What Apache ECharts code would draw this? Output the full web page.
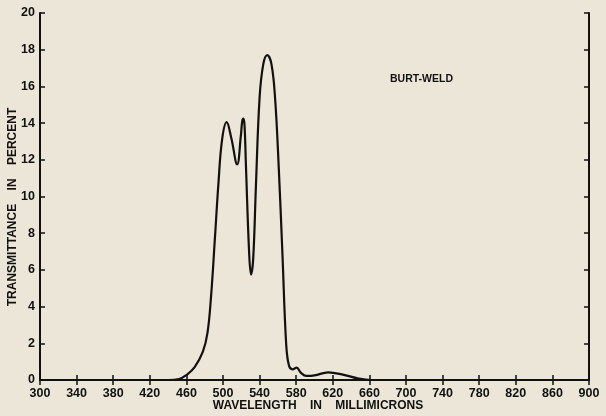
<!DOCTYPE html>
<html>
<head>
<meta charset="utf-8">
<script src="https://cdn.jsdelivr.net/npm/echarts@6/dist/echarts.min.js"></script>
<style>
html,body{margin:0;padding:0;background:#ece6d8;}
#c{width:606px;height:416px;}
</style>
</head>
<body>
<div id="c"></div>
<script>
const wavelengths = [440,452,460,469,478,483,487,491,495,499,504,509,515.5,519.5,521,522.3,523.5,525,528.5,530.6,533,536,540,544,548.4,553,557,561,565,569,572,576,580.5,585,591,600,615,632,648,662,900];
const transmittance = [0,0.05,0.27,0.7,1.55,2.55,4.6,7.6,10.7,13.1,14.05,13.2,11.75,13.3,14.1,14.25,13.9,11.8,7.0,5.75,6.6,10.6,15.4,17.2,17.7,17.2,15.3,11.5,6.8,2.0,0.8,0.58,0.67,0.4,0.22,0.25,0.42,0.28,0.08,0,0];
const xTicks = [300,340,380,420,460,500,540,580,620,660,700,740,780,820,860,900];
const yTicks = [0,2,4,6,8,10,12,14,16,18,20];
const sampleName = 'BURT-WELD';
const xTitle = 'WAVELENGTH    IN    MILLIMICRONS';
const yTitle = 'TRANSMITTANCE    IN    PERCENT';

const seriesData = wavelengths.map((w,i)=>[w, transmittance[i]]);
const ink = '#111';
const font = {fontFamily:'Liberation Sans, Arial, sans-serif', fontWeight:'bold', color:ink, fontSize:12.5};

const chart = echarts.init(document.getElementById('c'));
const xBase = {
  type:'value', min:300, max:900,
  axisLine:{show:true, lineStyle:{color:ink, width:2}},
  axisTick:{show:true, inside:true, length:5, customValues:xTicks, lineStyle:{color:ink, width:1.5}},
  splitLine:{show:false}
};
const yBase = {
  type:'value', min:0, max:20, interval:2,
  axisLine:{show:true, lineStyle:{color:ink, width:2}},
  axisTick:{show:true, inside:true, length:5, lineStyle:{color:ink, width:1.5}},
  splitLine:{show:false}
};
chart.setOption({
  backgroundColor:'#ece6d8',
  animation:false,
  grid:{left:40, right:17, top:13, bottom:36, containLabel:false, outerBoundsMode:'none'},
  xAxis:[
    Object.assign({}, xBase, {position:'bottom',
      axisLabel:Object.assign({}, font, {customValues:xTicks, margin:7})}),
    Object.assign({}, xBase, {position:'top', axisLabel:{show:false}})
  ],
  yAxis:[
    Object.assign({}, yBase, {position:'left',
      axisLabel:Object.assign({}, font, {margin:5, formatter: v => yTicks.includes(v) ? String(v) : ''})}),
    Object.assign({}, yBase, {position:'right', axisLabel:{show:false}})
  ],
  series:[{
    type:'line', data:seriesData, smooth:0.4,
    showSymbol:false, lineStyle:{color:ink, width:2.2}, z:5
  }],
  graphic:[{
    type:'text', x:13, y:207, rotation:Math.PI/2,
    style:{text:yTitle, fill:ink, align:'center', verticalAlign:'middle',
      font:'bold 12px Liberation Sans, Arial, sans-serif'}
  },{
    type:'text', x:318, y:406,
    style:{text:xTitle, fill:ink, align:'center', verticalAlign:'middle',
      font:'bold 12px Liberation Sans, Arial, sans-serif'}
  },{
    type:'text', left:390, top:74,
    style:{text:sampleName, fill:ink, font:'bold 10.5px Liberation Sans, Arial, sans-serif'}
  }]
});
</script>
</body>
</html>
